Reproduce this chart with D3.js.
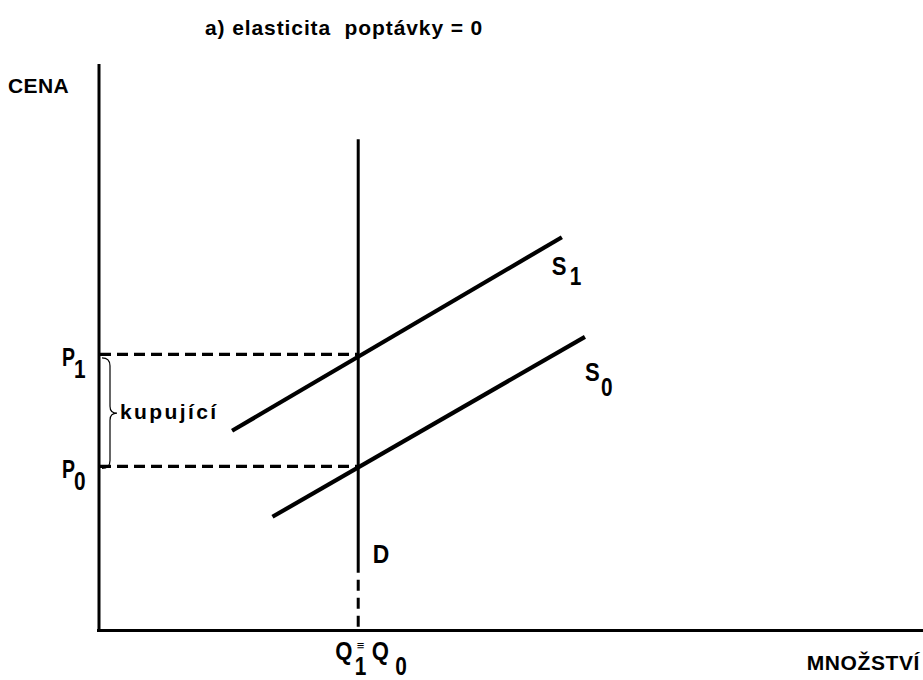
<!DOCTYPE html>
<html>
<head>
<meta charset="utf-8">
<script src="https://cdn.jsdelivr.net/npm/d3@7"></script>
<style>
  html, body { margin: 0; padding: 0; background: #fff; }
  svg { display: block; }
  text { font-family: "Liberation Sans", Arial, sans-serif; font-weight: bold; fill: #000; white-space: pre; }
</style>
</head>
<body>
<script>
// ---- data (arbitrary price/quantity units) ----
const titleText = "a) elasticita  poptávky = 0";
const yAxisLabel = "CENA";
const xAxisLabel = "MNOŽSTVÍ";
const buyerLabel = "kupující";
const demandLabel = "D";
const demandQ = 3.15;           // vertical demand at Q1 = Q0
const demandTop = 8.67;         // upper end of D
const demandSolidBottom = 1.01; // below this D is dashed
const supplyS1 = [{q: 1.62, p: 3.52}, {q: 5.62, p: 6.94}];
const supplyS0 = [{q: 2.11, p: 2.00}, {q: 5.90, p: 5.18}];
const priceNames = ["P", "P"];
const priceSubs = ["1", "0"];
const priceValues = [4.87, 2.89];
const supplyName = "S";
const supplySubs = ["1", "0"];
const quantityName = "Q";
const quantitySubs = ["1", "0"];

const W = 923, H = 680;
const svg = d3.select("body").append("svg").attr("width", W).attr("height", H);

const x = d3.scaleLinear().domain([0, 10]).range([98.5, 923]);
const y = d3.scaleLinear().domain([0, 10]).range([630, 64]);

// narrow-looking glyph text (horizontally compressed)
function glyph(px, py, str, size, sx) {
  return svg.append("text")
    .attr("transform", `translate(${px},${py}) scale(${sx},1)`)
    .attr("font-size", size).text(str);
}

// title
svg.append("text").attr("x", 205).attr("y", 35)
  .attr("font-size", 21).attr("letter-spacing", 0.9).text(titleText);

// axis labels
svg.append("text").attr("x", 8).attr("y", 93)
  .attr("font-size", 21).attr("letter-spacing", 0.4).text(yAxisLabel);
svg.append("text").attr("x", 920).attr("y", 670).attr("text-anchor", "end")
  .attr("font-size", 21).attr("letter-spacing", 0.6).text(xAxisLabel);

// axes (no ticks)
const gx = svg.append("g").attr("transform", `translate(0,${y(0)})`)
  .call(d3.axisBottom(x).tickValues([]).tickSizeOuter(0));
const gy = svg.append("g").attr("transform", `translate(${x(0)},0)`)
  .call(d3.axisLeft(y).tickValues([]).tickSizeOuter(0));
[gx, gy].forEach(g => g.select(".domain").attr("stroke", "#000").attr("stroke-width", 3));
gx.select(".domain").attr("d", `M${x(0) - 1.5},0.5H${W}`);
gy.select(".domain").attr("d", `M0.5,${y(0) + 1.5}V${y(10)}`);

// dashed price lines
svg.selectAll(".pline").data(priceValues).enter().append("line")
  .attr("x1", x(0) + 1.5).attr("x2", x(demandQ))
  .attr("y1", d => y(d)).attr("y2", d => y(d))
  .attr("stroke", "#000").attr("stroke-width", 3.2).attr("stroke-dasharray", "11 6");

// demand D
svg.append("line").attr("x1", x(demandQ)).attr("x2", x(demandQ))
  .attr("y1", y(demandTop)).attr("y2", y(demandSolidBottom))
  .attr("stroke", "#000").attr("stroke-width", 3);
svg.append("line").attr("x1", x(demandQ)).attr("x2", x(demandQ))
  .attr("y1", y(demandSolidBottom)).attr("y2", y(0))
  .attr("stroke", "#000").attr("stroke-width", 3)
  .attr("stroke-dasharray", "11 7").attr("stroke-dashoffset", 11);

// supply lines
const line = d3.line().x(d => x(d.q)).y(d => y(d.p));
[supplyS1, supplyS0].forEach(s => {
  svg.append("path").attr("d", line(s)).attr("fill", "none")
    .attr("stroke", "#000").attr("stroke-width", 4.2);
});

const LS = 26, SX = 0.8;

// price labels
priceValues.forEach((v, i) => {
  glyph(x(0) - 36.5, y(v) + 11.5, priceNames[i], LS, 0.75);
  glyph(x(0) - 24.5, y(v) + 23.5, priceSubs[i], LS, SX);
});

// supply labels
const s1End = supplyS1[1], s0End = supplyS0[1];
glyph(x(s1End.q) - 10, y(s1End.p) + 38, supplyName, LS, 0.85);
glyph(x(s1End.q) + 8, y(s1End.p) + 48, supplySubs[0], LS, SX);
glyph(x(s0End.q) + 0, y(s0End.p) + 44, supplyName, LS, 0.85);
glyph(x(s0End.q) + 16, y(s0End.p) + 59, supplySubs[1], LS, SX);

// D label
glyph(x(demandQ) + 14.5, y(demandSolidBottom) - 10, demandLabel, LS, 0.88);

// Q1 ≡ Q0 label
{
  const qx = x(demandQ);
  glyph(qx - 23, 660, quantityName, LS, 0.85);
  glyph(qx - 3.5, 675, quantitySubs[0], LS, SX);
  svg.append("text").attr("x", qx - 1.5).attr("y", 650)
    .attr("font-size", 13).attr("font-weight", "normal").text("≡");
  glyph(qx + 13.5, 660, quantityName, LS, 0.85);
  glyph(qx + 37, 675, quantitySubs[1], LS, SX);
}

// brace between P1 and P0 with "kupující"
{
  const top = y(priceValues[0]) + 3.5, bot = y(priceValues[1]) + 2;
  const mid = (top + bot) / 2;
  const xl = x(0) + 3.5, xm = x(0) + 11.5, xt = x(0) + 18.5;
  const p = d3.path();
  p.moveTo(xl, top);
  p.quadraticCurveTo(xm, top, xm, top + 8);
  p.lineTo(xm, mid - 7);
  p.quadraticCurveTo(xm, mid, xt, mid);
  p.quadraticCurveTo(xm, mid, xm, mid + 7);
  p.lineTo(xm, bot - 8);
  p.quadraticCurveTo(xm, bot, xl, bot);
  svg.append("path").attr("d", p.toString()).attr("fill", "none")
    .attr("stroke", "#000").attr("stroke-width", 1.2);
  svg.append("text").attr("x", xt + 3).attr("y", mid + 6)
    .attr("font-size", 21).attr("letter-spacing", 2.4).text(buyerLabel);
}
</script>
</body>
</html>
